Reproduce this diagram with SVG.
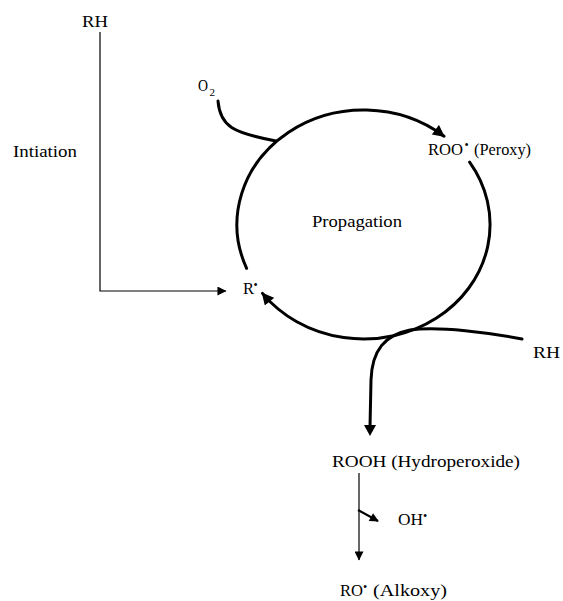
<svg xmlns="http://www.w3.org/2000/svg" width="563" height="601" viewBox="0 0 563 601">
  <style>
    text { font-family: "Liberation Serif", "Times New Roman", serif; font-size: 16px; fill: #000; }
    .sup { font-size: 12px; }
    .sub { font-size: 11px; }
    .thick { fill: none; stroke: #000; stroke-width: 3; stroke-linecap: round; }
    .thin { fill: none; stroke: #000; stroke-width: 1.2; }
    .mid { fill: none; stroke: #000; stroke-width: 2; }
  </style>
  <defs>
    <marker id="headBig" viewBox="0 0 10 10" refX="9" refY="5" markerWidth="4.2" markerHeight="4" markerUnits="strokeWidth" orient="auto">
      <path d="M0,0 L10,5 L0,10 Z" fill="#000"/>
    </marker>
    <marker id="headThin" viewBox="0 0 10 10" refX="9.5" refY="5" markerWidth="10" markerHeight="9" markerUnits="userSpaceOnUse" orient="auto">
      <path d="M0,0 L10,5 L0,10 Z" fill="#000"/>
    </marker>
    <marker id="headMid" viewBox="0 0 10 10" refX="9" refY="5" markerWidth="5" markerHeight="4.5" markerUnits="strokeWidth" orient="auto">
      <path d="M0,0 L10,5 L0,10 Z" fill="#000"/>
    </marker>
  </defs>

  <!-- connectors -->
  <g id="connectors">
    <!-- initiation: RH down and across to R. -->
    <path class="thin" d="M100,32 L100,291 L226,291" marker-end="url(#headThin)"/>
    <!-- propagation cycle (ellipse centre 363.5,224.5), left/top arc toward ROO. -->
    <path class="thick" d="M246.6,268.3 A126.5,114.5 0 0 1 444,136.2" marker-end="url(#headBig)"/>
    <!-- propagation cycle, right/bottom arc back to R. -->
    <path class="thick" d="M469.6,162.1 A126.5,114.5 0 0 1 262.5,293.4" marker-end="url(#headBig)"/>
    <!-- oxygen entering the cycle -->
    <path class="thick" d="M218,101 C220,127 234,133 276,141"/>
    <!-- RH entering, hydroperoxide leaving -->
    <path class="thick" d="M522,339 C490,333 440,326 410,330 C385,335 372,350 371,380 L370,427"/>
    <path d="M364,425 L376,425 L370,436 Z" fill="#000"/>
    <!-- ROOH to RO. -->
    <path class="thin" d="M359,473 L359,560" marker-end="url(#headThin)"/>
    <!-- OH. released -->
    <path class="mid" d="M358,510 L378,521" marker-end="url(#headMid)"/>
  </g>

  <g id="rh-top"><text x="82" y="27" textLength="26" lengthAdjust="spacingAndGlyphs">RH</text></g>
  <g id="initiation"><text x="13" y="157" textLength="64" lengthAdjust="spacingAndGlyphs">Intiation</text></g>
  <g id="o2">
    <text x="198" y="91" textLength="10" lengthAdjust="spacingAndGlyphs">O</text>
    <text class="sub" x="209.5" y="96">2</text>
  </g>
  <g id="roo">
    <text x="428" y="155" textLength="35" lengthAdjust="spacingAndGlyphs">ROO</text>
    <text class="sup" x="464.5" y="149">•</text>
    <text x="474" y="155" textLength="57" lengthAdjust="spacingAndGlyphs">(Peroxy)</text>
  </g>
  <g id="propagation"><text x="312" y="227" textLength="90" lengthAdjust="spacingAndGlyphs">Propagation</text></g>
  <g id="r-radical">
    <text x="243" y="294" textLength="11" lengthAdjust="spacingAndGlyphs">R</text>
    <text class="sup" x="253.5" y="289">•</text>
  </g>
  <g id="rh-right"><text x="533" y="358" textLength="27" lengthAdjust="spacingAndGlyphs">RH</text></g>
  <g id="rooh"><text x="332" y="467" textLength="188" lengthAdjust="spacingAndGlyphs">ROOH (Hydroperoxide)</text></g>
  <g id="oh">
    <text x="398" y="525" textLength="25" lengthAdjust="spacingAndGlyphs">OH</text>
    <text class="sup" x="423" y="520">•</text>
  </g>
  <g id="ro">
    <text x="340" y="596" textLength="23" lengthAdjust="spacingAndGlyphs">RO</text>
    <text class="sup" x="363" y="591">•</text>
    <text x="373" y="596" textLength="74" lengthAdjust="spacingAndGlyphs">(Alkoxy)</text>
  </g>
</svg>
